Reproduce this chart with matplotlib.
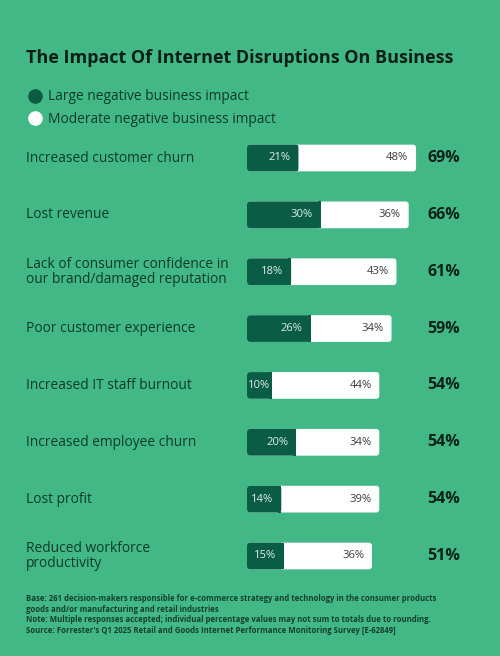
import matplotlib.pyplot as plt
from matplotlib.patches import FancyBboxPatch, Rectangle
from matplotlib.lines import Line2D
from matplotlib.transforms import blended_transform_factory

categories = [
    'Increased customer churn',
    'Lost revenue',
    'Lack of consumer confidence in\nour brand/damaged reputation',
    'Poor customer experience',
    'Increased IT staff burnout',
    'Increased employee churn',
    'Lost profit',
    'Reduced workforce\nproductivity',
]
large_impact = [21, 30, 18, 26, 10, 20, 14, 15]
moderate_impact = [48, 36, 43, 34, 44, 34, 39, 36]
totals = [69, 66, 61, 59, 54, 54, 54, 51]

bg = '#42b886'
dark = '#0b5c45'
label_col = '#0d3b2b'
footer = ("Base: 261 decision-makers responsible for e-commerce strategy and technology in the consumer products\n"
          "goods and/or manufacturing and retail industries\n"
          "Note: Multiple responses accepted; individual percentage values may not sum to totals due to rounding.\n"
          "Source: Forrester's Q1 2025 Retail and Goods Internet Performance Monitoring Survey [E-62849]")

plt.rcParams['font.family'] = ['Open Sans', 'DejaVu Sans']
plt.rcParams['font.stretch'] = 'normal'

W, H = 500, 656
fig = plt.figure(figsize=(5, 6.56), dpi=100, facecolor=bg)

# bar area: 0% at x=247px, 2.45 px per percent; rows centred 158..556 px
row_gap = (556 - 158) / 7
top = 158 - row_gap / 2
bottom = 556 + row_gap / 2
ax = fig.add_axes([247 / W, 1 - bottom / H, 245 / W, (bottom - top) / H])
ax.set_xlim(0, 100)
ax.set_ylim(len(categories) - 0.5, -0.5)
ax.axis('off')

bar_h = 0.47
# rounding radius ~3px, in data units
r = 3 / 2.45
aspect = (1 / row_gap) / (1 / 2.45)

trans_lbl = blended_transform_factory(fig.transFigure, ax.transData)
for i, (cat, lg, md, tot) in enumerate(zip(categories, large_impact, moderate_impact, totals)):
    y0 = i - bar_h / 2
    white = FancyBboxPatch((0, y0), tot, bar_h, boxstyle=f'round,pad=0,rounding_size={r}',
                           mutation_aspect=aspect, fc='white', ec='none')
    ax.add_patch(white)
    dk = FancyBboxPatch((0, y0), lg, bar_h, boxstyle=f'round,pad=0,rounding_size={r}',
                        mutation_aspect=aspect, fc=dark, ec='none')
    ax.add_patch(dk)
    ax.add_patch(Rectangle((lg - r, y0), r, bar_h, fc=dark, ec='none'))

    gap = 3.2 if lg > 12 else 0.4
    ax.text(lg - gap, i, f'{lg}%', ha='right', va='center', fontsize=8.1, color='#d9efe6')
    ax.text(tot - 3.2, i, f'{md}%', ha='right', va='center', fontsize=8.1, color='#3a3a3a')
    ax.text(427 / W, i, f'{tot}%', transform=trans_lbl, ha='left', va='center',
            fontsize=11.5, fontweight='bold', color='#0a2219')
    ax.text(26 / W, i, cat, transform=trans_lbl, ha='left', va='center',
            fontsize=9.9, color=label_col, linespacing=1.0)

fig.text(26 / W, 1 - 58 / H, 'The Impact Of Internet Disruptions On Business', ha='left', va='center',
         fontsize=13, fontweight='bold', color='#0a1f17')

handles = [
    Line2D([], [], marker='o', ls='none', ms=9.5, mfc=dark, mec=dark),
    Line2D([], [], marker='o', ls='none', ms=9.5, mfc='white', mec='white'),
]
fig.legend(handles, ['Large negative business impact', 'Moderate negative business impact'],
           loc='upper left', bbox_to_anchor=(16 / W, 1 - 77 / H), frameon=False,
           handlelength=1.0, handletextpad=0.45, labelspacing=0.55,
           prop={'size': 9.9}, labelcolor=label_col)

fig.text(26 / W, 1 - 594 / H, footer, ha='left', va='top', fontsize=5.6,
         fontweight='bold', color='#14402f', linespacing=1.25)

fig.savefig('out.png', dpi=100, facecolor=bg)
